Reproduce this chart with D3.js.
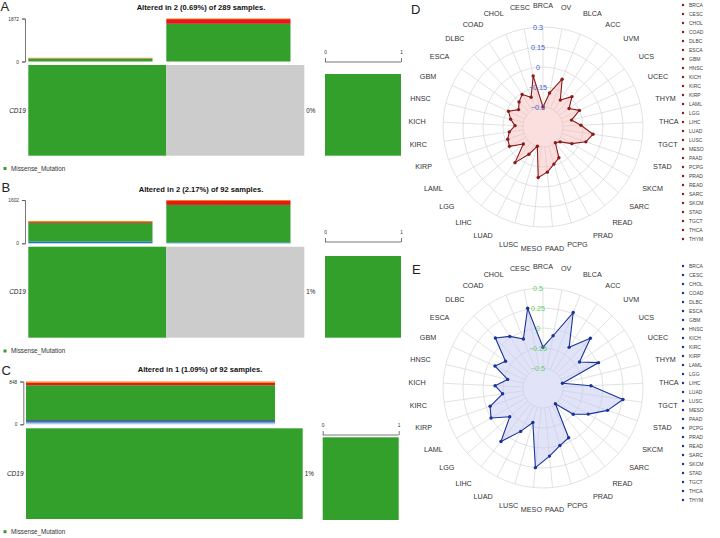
<!DOCTYPE html>
<html><head><meta charset="utf-8">
<script src="https://cdn.jsdelivr.net/npm/d3@7"></script>
<style>body{margin:0;background:#fff}svg{display:block;font-family:"Liberation Sans",Arial,sans-serif}</style>
</head><body><svg id="c" width="720" height="538"></svg>
<script>
// ---------- DATA ----------
const variantClasses = ["Nonstop_Mutation","Frame_Shift_Del","Frame_Shift_Ins","Missense_Mutation","Nonsense_Mutation","Splice_Site"];
const variantColors  = ["#a6cee3","#1f78b4","#6a3d9a","#33a02c","#e31a1c","#ff7f00"];
// TMB per sample, stacked in the order of variantClasses
const tmbA = [[0,0,0,130,8,22],[0,0,0,1640,205,27]];
const tmbB = [[0,73,0,684,30,36],[0,36,0,1384,146,36]];
const tmbC = [[34,30,20,690,47,27]];
const alteredA = [true,false];
const alteredB = [true,false];
const alteredC = [true];
const titles = ["Altered in 2 (0.69%) of 289 samples.","Altered in 2 (2.17%) of 92 samples.","Altered in 1 (1.09%) of 92 samples."];
const genePct = ["0%","1%","1%"];
const geneName = "CD19";
const legendLabel = "Missense_Mutation";

const cancerTypes = ["BRCA","OV","BLCA","ACC","UVM","UCS","UCEC","THYM","THCA","TGCT","STAD","SKCM","SARC","READ","PRAD","PCPG","PAAD","MESO","LUSC","LUAD","LIHC","LGG","LAML","KIRP","KIRC","KICH","HNSC","GBM","ESCA","DLBC","COAD","CHOL","CESC"];
const valuesD = [-0.3,-0.19,-0.064,-0.21,-0.135,-0.21,-0.15,-0.23,-0.165,-0.071,-0.11,-0.2,-0.28,-0.3,-0.19,-0.16,-0.11,-0.07,-0.3,-0.22,-0.11,-0.255,-0.16,-0.17,-0.195,-0.24,-0.2,-0.165,-0.225,-0.19,-0.16,-0.21,-0.06];
const valuesE = [-0.24,-0.085,0.266,-0.146,0.108,-0.19,0.0125,-0.5,-0.15,0.26,0.104,-0.097,-0.25,-0.5,-0.05,0.0,0.105,0.25,-0.3,-0.14,0.10,-0.2,0.0,-0.05,-0.24,-0.15,-0.295,-0.09,-0.175,0.113,0.017,-0.09,0.265];
const ticksD = [-0.3,-0.15,0,0.15,0.3];
const ticksE = [-0.5,-0.25,0,0.25,0.5];
const legendTypes = ["BRCA","CESC","CHOL","COAD","DLBC","ESCA","GBM","HNSC","KICH","KIRC","KIRP","LAML","LGG","LIHC","LUAD","LUSC","MESO","PAAD","PCPG","PRAD","READ","SARC","SKCM","STAD","TGCT","THCA","THYM"];

// ---------- DRAW ----------
const svg = d3.select("#c");

function oncoplot(o){
  const g = svg.append("g");
  g.append("text").attr("x",o.letterX).attr("y",o.letterY).attr("font-size",13).attr("fill","#222").text(o.letter);
  g.append("text").attr("x",o.titleX).attr("y",o.titleY).attr("text-anchor","middle").attr("font-size",7.6).attr("font-weight","bold").attr("fill","#111").text(o.title);
  const n = o.tmb.length;
  const xb = d3.scaleBand().domain(d3.range(n)).range([o.x0,o.x1]).paddingInner(0).paddingOuter(0);
  const maxT = d3.max(o.tmb, d=>d3.sum(d));
  const y = d3.scaleLinear().domain([0,maxT]).range([o.yZero,o.yMax]);
  o.tmb.forEach((s,i)=>{
    let acc=0;
    s.forEach((v,k)=>{
      if(v<=0) return;
      g.append("rect").attr("x",xb(i)).attr("width",xb.bandwidth()*0.9)
        .attr("y",y(acc+v)).attr("height",y(acc)-y(acc+v)).attr("fill",variantColors[k]);
      acc+=v;
    });
  });
  const ax = d3.axisLeft(y).tickValues([0,maxT]).tickSize(3).tickFormat(d3.format("d"));
  const axg = g.append("g").attr("transform",`translate(${o.axisX},0)`).call(ax);
  axg.select(".domain").attr("stroke","#555").attr("stroke-width",0.8);
  axg.selectAll(".tick line").attr("stroke","#555").attr("stroke-width",0.8);
  axg.selectAll("text").attr("font-size",4.8).attr("fill","#333").attr("font-family","Liberation Sans, Arial");
  o.altered.forEach((a,i)=>{
    g.append("rect").attr("x",xb(i)).attr("width",xb.bandwidth()).attr("y",o.mainTop).attr("height",o.mainBottom-o.mainTop)
      .attr("fill",a?"#33a02c":"#cccccc");
  });
  const mid=(o.mainTop+o.mainBottom)/2;
  g.append("text").attr("x",o.x0-2.5).attr("y",mid).attr("dy","0.35em").attr("text-anchor","end").attr("font-size",6.5).attr("font-style","italic").attr("fill","#222").text(geneName);
  g.append("text").attr("x",o.x1+2).attr("y",mid).attr("dy","0.35em").attr("font-size",6.3).attr("fill","#222").text(o.pct);
  const xr = d3.scaleLinear().domain([0,1]).range([o.rx0,o.rx1]);
  g.append("rect").attr("x",xr(0)).attr("width",xr(1)-xr(0)).attr("y",o.rTop).attr("height",o.mainBottom-o.rTop+o.rExtra).attr("fill","#33a02c");
  const rax = d3.axisTop(xr).tickValues([0,1]).tickSize(-4).tickFormat(d3.format("d"));
  const rg = g.append("g").attr("transform",`translate(0,${o.bracketY})`).call(rax);
  rg.select(".domain").remove();
  rg.append("line").attr("x1",xr(0)).attr("x2",xr(1)).attr("stroke","#555").attr("stroke-width",0.8);
  rg.selectAll(".tick line").attr("stroke","#555").attr("stroke-width",0.8).attr("y1",-4).attr("y2",0);
  rg.selectAll("text").attr("font-size",4.8).attr("fill","#333").attr("y",-8).attr("font-family","Liberation Sans, Arial");
  g.append("rect").attr("x",3.5).attr("y",o.legendY-1.5).attr("width",3).attr("height",3).attr("fill","#33a02c");
  g.append("text").attr("x",11).attr("y",o.legendY).attr("dy","0.35em").attr("font-size",6.3).attr("fill","#333").text(legendLabel);
}

oncoplot({letter:"A",letterX:0.5,letterY:11,title:titles[0],titleX:201,titleY:10,tmb:tmbA,altered:alteredA,pct:genePct[0],
  x0:28.3,x1:304.3,yZero:61.5,yMax:18.5,axisX:25,mainTop:65,mainBottom:155.7,rx0:325,rx1:401,rTop:74,rExtra:0,bracketY:62,legendY:168.5});
oncoplot({letter:"B",letterX:1.5,letterY:192,title:titles[1],titleX:201,titleY:191.8,tmb:tmbB,altered:alteredB,pct:genePct[1],
  x0:28.3,x1:304.3,yZero:243.3,yMax:200,axisX:25,mainTop:246.7,mainBottom:337.7,rx0:325,rx1:401,rTop:256,rExtra:0,bracketY:242,legendY:351});
oncoplot({letter:"C",letterX:1.5,letterY:375,title:titles[2],titleX:200,titleY:372,tmb:tmbC,altered:alteredC,pct:genePct[2],
  x0:26,x1:302.7,yZero:424.3,yMax:381.5,axisX:23.3,mainTop:428.3,mainBottom:519,rx0:322.7,rx1:398.7,rTop:437.3,rExtra:1,bracketY:435,legendY:531.7});

function radar(o){
  const g = svg.append("g");
  g.append("text").attr("x",o.letterX).attr("y",o.letterY).attr("font-size",13).attr("fill","#222").text(o.letter);
  const gc = g.append("g").attr("transform",`translate(${o.cx},${o.cy})`);
  const r = d3.scaleLinear().domain(o.domain).range([20,100]);
  const n = cancerTypes.length;
  const ang = d3.scaleLinear().domain([0,n]).range([0,2*Math.PI]);
  o.ticks.forEach(t=>{
    gc.append("circle").attr("r",r(t)).attr("fill","none").attr("stroke","#d6d6d6").attr("stroke-width",0.7);
  });
  cancerTypes.forEach((c,i)=>{
    const a=ang(i);
    gc.append("line").attr("x1",r(o.domain[0])*Math.sin(a)).attr("y1",-r(o.domain[0])*Math.cos(a))
      .attr("x2",r(o.domain[1])*Math.sin(a)).attr("y2",-r(o.domain[1])*Math.cos(a))
      .attr("stroke","#d6d6d6").attr("stroke-width",0.7);
  });
  const line = d3.lineRadial().angle((d,i)=>ang(i)).radius(d=>r(d)).curve(d3.curveLinearClosed);
  gc.append("path").attr("d",line(o.values)).attr("fill",o.fill).attr("fill-opacity",o.fillOpacity).attr("stroke",o.stroke).attr("stroke-width",1.1).attr("stroke-linejoin","round");
  o.values.forEach((v,i)=>{
    const a=ang(i);
    gc.append("circle").attr("cx",r(v)*Math.sin(a)).attr("cy",-r(v)*Math.cos(a)).attr("r",1.7).attr("fill",o.stroke);
  });
  o.ticks.forEach(t=>{
    gc.append("text").attr("x",-5).attr("y",-r(t)).attr("dy","0.35em").attr("text-anchor","middle").attr("font-size",7.2).attr("fill",o.tickColor).text(o.tickFmt(t));
  });
  cancerTypes.forEach((c,i)=>{
    const a=ang(i), R=122;
    const s=Math.sin(a);
    const off = Math.abs(s)>0.3 ? 4*Math.sign(s) : 0;
    gc.append("text").attr("x",R*s + off).attr("y",-R*Math.cos(a)).attr("dy","0.35em").attr("text-anchor","middle")
      .attr("font-size",7.2).attr("fill","#333").text(c);
  });
  legendTypes.forEach((c,i)=>{
    const yy=o.legY0+i*9;
    g.append("circle").attr("cx",683).attr("cy",yy).attr("r",1.2).attr("fill",o.stroke);
    g.append("text").attr("x",689).attr("y",yy).attr("dy","0.35em").attr("font-size",5).attr("fill","#444").text(c);
  });
}
const fmtD = d=> d===0?"0":d3.format("")(d);
radar({letter:"D",letterX:411,letterY:14,cx:543,cy:127,domain:[-0.3,0.3],ticks:ticksD,values:valuesD,
  fill:"#f7b5b5",fillOpacity:0.45,stroke:"#8b1a1a",tickColor:"#3a5fcd",tickFmt:fmtD,legY0:5});
radar({letter:"E",letterX:412,letterY:274,cx:543,cy:388,domain:[-0.5,0.5],ticks:ticksE,values:valuesE,
  fill:"#c4c9f2",fillOpacity:0.5,stroke:"#1a3399",tickColor:"#66cc66",tickFmt:fmtD,legY0:266});
</script></body></html>
